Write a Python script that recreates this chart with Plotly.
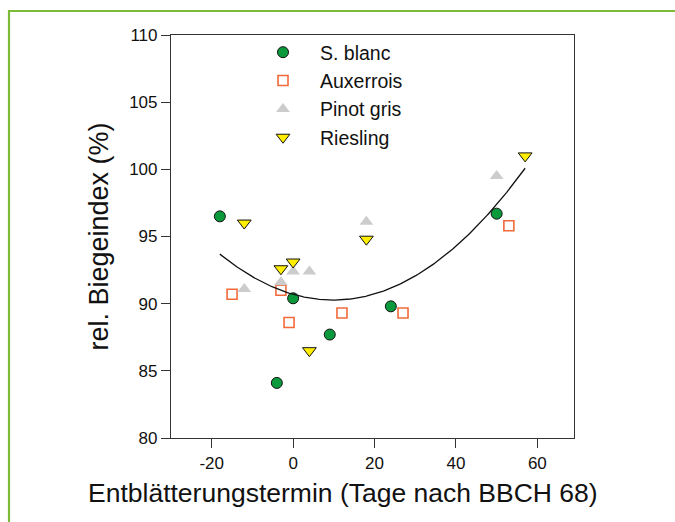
import numpy as np
import plotly.graph_objects as go

# Data
sb_x = [-18, -4, 0, 9, 24, 50]
sb_y = [96.5, 84.1, 90.4, 87.7, 89.8, 96.7]

aux_x = [-15, -3, -1, 12, 27, 53]
aux_y = [90.7, 91.0, 88.6, 89.3, 89.3, 95.8]

pg_x = [-12, -3, 0, 4, 18, 50]
pg_y = [91.1, 91.6, 92.4, 92.4, 96.1, 99.5]

rie_x = [-12, -3, 0, 4, 18, 57]
rie_y = [96.0, 92.6, 93.1, 86.5, 94.8, 101.0]

x_ticks = [-20, 0, 20, 40, 60]
x_tick_labels = ["-20", "0", "20", "40", "60"]
y_ticks = [80, 85, 90, 95, 100, 105, 110]

W, H = 675, 522
L, R, T, B = 171, 574, 35, 438
pw, ph = R - L, B - T

def px(xp):
    return (xp - L) / pw

def py(yp):
    return (B - yp) / ph

font = "Liberation Sans, Arial, sans-serif"

fig = go.Figure()
fig.add_trace(go.Scatter(x=sb_x, y=sb_y, mode="markers", name="S. blanc",
                         marker=dict(symbol="circle", size=11, color="#0a9a3c",
                                     line=dict(color="#111111", width=1))))
fig.add_trace(go.Scatter(x=aux_x, y=aux_y, mode="markers", name="Auxerrois",
                         marker=dict(symbol="square-open", size=10, color="#f26a3a",
                                     line=dict(width=1.6))))
fig.add_trace(go.Scatter(x=pg_x, y=pg_y, mode="markers", name="Pinot gris",
                         marker=dict(symbol="triangle-up", size=12, color="#cccccc",
                                     line=dict(width=0))))
fig.add_trace(go.Scatter(x=rie_x, y=rie_y, mode="markers", name="Riesling",
                         marker=dict(symbol="triangle-down", size=12, color="#ffee00",
                                     line=dict(color="#111111", width=1))))

all_x = np.array(sb_x + aux_x + pg_x + rie_x, dtype=float)
all_y = np.array(sb_y + aux_y + pg_y + rie_y, dtype=float)
coef = np.polyfit(all_x, all_y, 2)
fx = np.linspace(all_x.min(), all_x.max(), 200)
fy = np.polyval(coef, fx)
fig.add_trace(go.Scatter(x=fx, y=fy, mode="lines", showlegend=False,
                         line=dict(color="#111111", width=1.3), hoverinfo="skip"))

fig.update_layout(
    width=W, height=H,
    margin=dict(l=L, r=W - R, t=T, b=H - B),
    paper_bgcolor="white", plot_bgcolor="white",
    font=dict(family=font, color="#111111", size=17),
    showlegend=True,
    legend=dict(x=px(246), y=py(33), xanchor="left", yanchor="top",
                font=dict(size=19.5, family=font, color="#111111"),
                bgcolor="rgba(0,0,0,0)", itemwidth=64, tracegroupgap=0),
    xaxis=dict(range=[-30, 69], tickvals=x_ticks, ticktext=x_tick_labels,
               ticks="outside", ticklen=9,
               tickwidth=1, tickcolor="#333333", showline=True, linecolor="#333333",
               linewidth=1.2, mirror=True, showgrid=False, zeroline=False,
               tickfont=dict(size=17)),
    yaxis=dict(range=[80, 110], tickvals=y_ticks, ticks="outside", ticklen=9,
               tickwidth=1, tickcolor="#333333", showline=True, linecolor="#333333",
               linewidth=1.2, mirror=True, showgrid=False, zeroline=False,
               tickfont=dict(size=17),
               title=dict(text="rel. Biegeindex (%)", font=dict(size=27), standoff=12)),
    shapes=[dict(type="rect", xref="paper", yref="paper",
                 x0=px(9), x1=px(690), y0=py(540), y1=py(11),
                 line=dict(color="#7cbb3a", width=2.2), fillcolor="rgba(0,0,0,0)",
                 layer="below")],
    annotations=[dict(text="Entblätterungstermin (Tage nach BBCH 68)",
                      xref="paper", yref="paper", x=px(343), y=py(493),
                      xanchor="center", yanchor="middle", showarrow=False,
                      font=dict(size=26.5, family=font, color="#111111"))],
)

fig.write_html("out.html")
